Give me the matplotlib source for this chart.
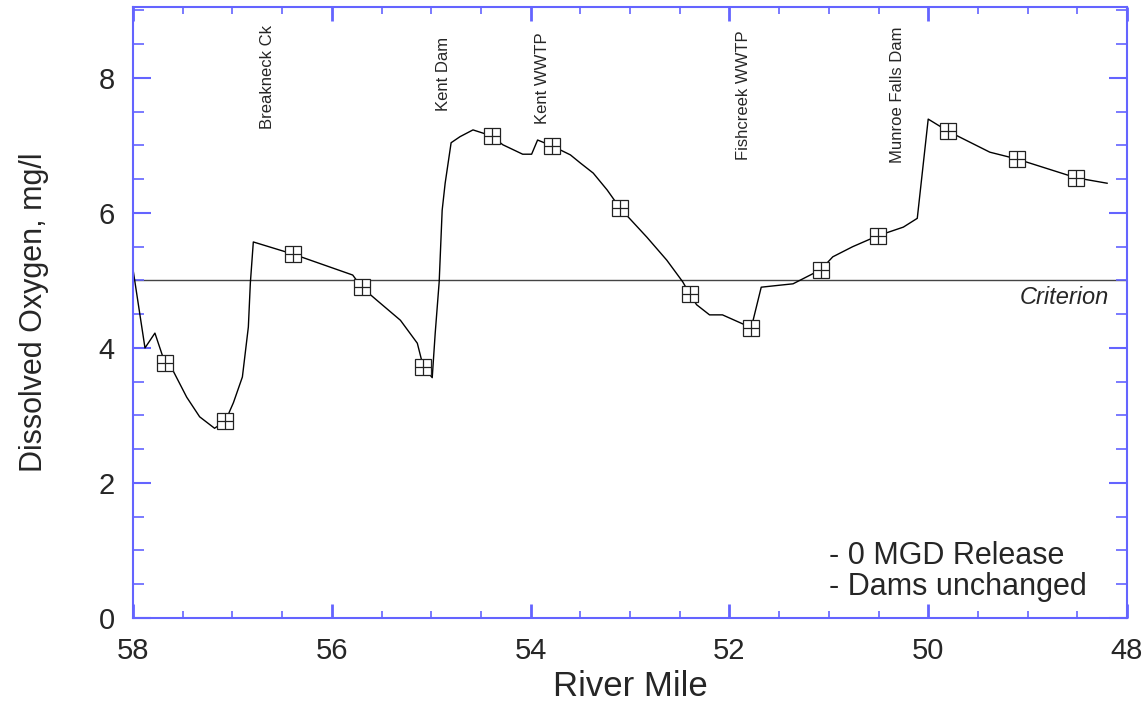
import matplotlib
matplotlib.use("Agg")
import matplotlib.pyplot as plt
from matplotlib.ticker import MultipleLocator

# model DO profile along the river (river mile, mg/l)
river_mile = [58.0, 57.88, 57.78, 57.68, 57.60, 57.46, 57.33, 57.18, 57.07, 56.99,
              56.90, 56.84, 56.82, 56.79, 56.39, 55.79, 55.70, 55.55, 55.31, 55.14,
              55.08, 54.99, 54.96, 54.92, 54.89, 54.86, 54.80, 54.71, 54.58, 54.39,
              54.28, 54.08, 53.99, 53.93, 53.78, 53.60, 53.50, 53.37, 53.23, 53.10,
              52.83, 52.63, 52.47, 52.40, 52.33, 52.20, 52.07, 51.78, 51.68, 51.49,
              51.36, 51.08, 50.96, 50.76, 50.51, 50.25, 50.11, 50.00, 49.80, 49.38,
              49.11, 48.51, 48.20]
dissolved_oxygen = [5.16, 4.00, 4.22, 3.78, 3.67, 3.27, 2.98, 2.81, 2.92, 3.19,
                    3.57, 4.31, 4.96, 5.57, 5.39, 5.08, 4.90, 4.71, 4.41, 4.07,
                    3.72, 3.56, 4.22, 4.98, 6.04, 6.44, 7.04, 7.13, 7.23, 7.14,
                    7.01, 6.87, 6.87, 7.08, 6.99, 6.86, 6.74, 6.59, 6.34, 6.07,
                    5.64, 5.30, 4.98, 4.80, 4.64, 4.49, 4.49, 4.30, 4.90, 4.93,
                    4.95, 5.16, 5.35, 5.50, 5.66, 5.79, 5.92, 7.39, 7.21, 6.90,
                    6.80, 6.52, 6.44]

# marked points on the profile
marker_mile = [57.68, 57.07, 56.39, 55.70, 55.08, 54.39, 53.78, 53.10, 52.40,
               51.78, 51.08, 50.51, 49.80, 49.11, 48.51]
marker_do = [3.78, 2.92, 5.39, 4.90, 3.72, 7.14, 6.99, 6.07, 4.80,
             4.30, 5.16, 5.66, 7.21, 6.80, 6.52]

criterion = 5.0

event_names = ["Breakneck Ck", "Kent Dam", "Kent WWTP", "Fishcreek WWTP", "Munroe Falls Dam"]
event_miles = [56.65, 54.88, 53.88, 51.86, 50.31]
event_tops = [8.79, 8.61, 8.67, 8.71, 8.76]

x_ticks = [58, 56, 54, 52, 50, 48]
y_ticks = [0, 2, 4, 6, 8]

blue = "#6464ff"
ink = "#262626"

plt.rcParams['font.family'] = ['Liberation Sans', 'DejaVu Sans']

fig = plt.figure(figsize=(11.48, 7.04), dpi=100)
ax = fig.add_axes([0.1159, 0.1222, 0.9817 - 0.1159, 0.990 - 0.1222])

ax.axhline(criterion, color="#444444", lw=1.0, zorder=1)
ax.plot(river_mile, dissolved_oxygen, color="black", lw=1.0, zorder=2)
ax.plot(marker_mile, marker_do, ls="none", marker="s", ms=11, mfc="white",
        mec="#222222", mew=0.9, zorder=3)
ax.plot(marker_mile, marker_do, ls="none", marker="+", ms=11,
        mec="#222222", mew=0.9, zorder=4)

for name, mile, top in zip(event_names, event_miles, event_tops):
    ax.text(mile, top, name, rotation=90, ha="center", va="top", fontsize=12,
            color=ink, family=['Liberation Sans Narrow', 'Liberation Sans', 'DejaVu Sans'])

ax.text(48.18, 4.74, "Criterion", style="italic", ha="right", va="center",
        fontsize=17, color=ink)
ax.text(51.0, 0.92, "- 0 MGD Release", ha="left", va="center", fontsize=22, color=ink)
ax.text(51.0, 0.46, "- Dams unchanged", ha="left", va="center", fontsize=22, color=ink)

ax.set_xlim(58, 48)
ax.set_ylim(0, 9.05)
ax.set_xticks(x_ticks)
ax.set_yticks(y_ticks)
ax.xaxis.set_minor_locator(MultipleLocator(0.5))
ax.yaxis.set_minor_locator(MultipleLocator(0.5))

for side in ax.spines.values():
    side.set_color(blue)
    side.set_linewidth(1.5)

ax.tick_params(axis="x", which="major", direction="in", top=True, length=10,
               width=2, color=blue, labelsize=21, labelcolor=ink, pad=14)
ax.tick_params(axis="x", which="minor", direction="in", top=True, length=5,
               width=1.2, color=blue)
ax.tick_params(axis="y", which="major", direction="in", right=True, length=13,
               width=1.5, color=blue, labelsize=21, labelcolor=ink, pad=13)
ax.tick_params(axis="y", which="minor", direction="in", right=True, length=8,
               width=1.2, color=blue)

ax.set_xlabel("River Mile", fontsize=25, color=ink, labelpad=3)
ax.set_ylabel("Dissolved Oxygen, mg/l", fontsize=22, color=ink, labelpad=36)

fig.savefig("out.png", dpi=100)
